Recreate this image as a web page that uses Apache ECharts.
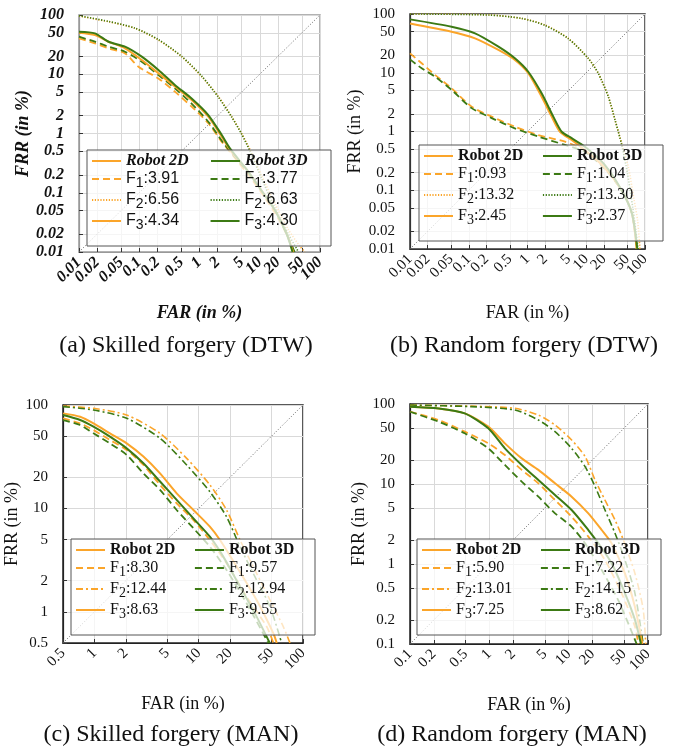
<!DOCTYPE html>
<html>
<head>
<meta charset="utf-8">
<script src="https://cdn.jsdelivr.net/npm/echarts@6/dist/echarts.min.js"></script>
<style>
html, body { margin: 0; padding: 0; background: #fff; }
#main { width: 676px; height: 749px; }
</style>
</head>
<body>
<div id="main"></div>
<script>
var ORANGE = '#FBA52A';
var GREEN = '#3C7A14';

// tick values of the axes
var ticksAB = [0.01, 0.02, 0.05, 0.1, 0.2, 0.5, 1, 2, 5, 10, 20, 50, 100];
var ticksC = [0.5, 1, 2, 5, 10, 20, 50, 100];
var ticksD = [0.1, 0.2, 0.5, 1, 2, 5, 10, 20, 50, 100];
// crowded FAR labels of (a)/(b) go on a second, bare axis so none gets dropped
var farMainAB = [0.01, 0.05, 0.1, 0.2, 0.5, 1, 2, 5, 10, 20, 100];
var farExtraAB = [0.02, 50];

// legend labels, order: F1 2D, F1 3D, F2 2D, F2 3D, F3 2D, F3 3D
var namesA = ['F1:3.91', 'F1:3.77', 'F2:6.56', 'F2:6.63', 'F3:4.34', 'F3:4.30'];
var namesB = ['F1:0.93', 'F1:1.04', 'F2:13.32', 'F2:13.30', 'F3:2.45', 'F3:2.37'];
var namesC = ['F1:8.30', 'F1:9.57', 'F2:12.44', 'F2:12.94', 'F3:8.63', 'F3:9.55'];
var namesD = ['F1:5.90', 'F1:7.22', 'F2:13.01', 'F2:14.15', 'F3:7.25', 'F3:8.62'];

// (a) skilled forgery, DTW  -- [FAR, FRR] in %
var aF1_2d = [[0.01,40.4],[0.0184,33.2],[0.031,27.4],[0.058,22.5],[0.097,13.4],[0.208,8.5],[0.39,5.08],[0.74,2.84],[1.4,1.49],[2.33,0.73],[3.0,0.53],[6,0.22],[10,0.11],[18,0.045],[28,0.02],[37,0.01]];
var aF1_3d = [[0.01,43],[0.0184,35.4],[0.031,29.2],[0.058,24],[0.11,16.3],[0.208,9.7],[0.39,5.8],[0.74,3.2],[1.4,1.58],[2.65,0.64],[6,0.24],[10,0.12],[18,0.05],[28,0.02],[38,0.01]];
var aF2_2d = [[0.01,96],[0.031,77],[0.085,59.6],[0.208,37.8],[0.506,19.8],[1.09,9.1],[2.06,4.2],[3.42,1.92],[5.0,1.0],[6.9,0.53],[10.8,0.19],[17.9,0.066],[29.8,0.024],[45,0.013],[56,0.01]];
var aF2_3d = [[0.01,97],[0.031,78],[0.085,60],[0.208,38.5],[0.506,20],[1.09,9.3],[2.06,4.1],[3.42,1.9],[5.0,0.98],[6.9,0.5],[10.8,0.17],[17.9,0.055],[29.8,0.02],[44,0.01]];
var aF3_2d = [[0.01,50.3],[0.0184,46],[0.031,35.4],[0.058,27.4],[0.11,17.4],[0.208,10.4],[0.39,6.2],[0.74,3.67],[1.4,1.92],[2.33,0.885],[3.2,0.53],[6,0.25],[10,0.12],[18,0.05],[28,0.02],[36,0.01]];
var aF3_3d = [[0.01,52.3],[0.0184,49],[0.031,35.4],[0.058,29.2],[0.11,19.8],[0.208,11.8],[0.39,6.6],[0.74,3.9],[1.4,2.05],[2.33,0.95],[3.2,0.56],[6,0.25],[10,0.12],[18,0.05],[28,0.02],[35,0.01]];

// (b) random forgery, DTW
var bF1_2d = [[0.01,21.4],[0.0158,14.5],[0.0266,9.2],[0.051,5.43],[0.112,2.65],[0.246,1.79],[0.61,1.21],[1.53,0.87],[4.35,0.67],[9.5,0.48],[20,0.25],[40,0.1],[60,0.04],[72,0.01]];
var bF1_3d = [[0.01,16.9],[0.0158,11.9],[0.0266,8.6],[0.051,5.1],[0.112,2.5],[0.246,1.69],[0.61,1.13],[1.53,0.82],[4.35,0.59],[9.5,0.45],[20,0.24],[40,0.1],[60,0.04],[73,0.01]];
var bF2_2d = [[0.01,100],[0.215,97],[0.8,84],[1.99,65],[4.95,38.5],[10.8,17.6],[16,9.8],[23.8,3.9],[30.9,1.57],[40,0.63],[52,0.25],[65,0.07],[75,0.03],[82,0.01]];
var bF2_3d = [[0.01,100],[0.215,96],[0.8,84],[1.99,64],[4.95,38],[10.8,17.6],[16,9.8],[23.8,3.9],[30.9,1.57],[40,0.6],[50,0.2],[62,0.05],[70,0.02],[76,0.01]];
var bF3_2d = [[0.01,69],[0.051,50],[0.128,38.5],[0.32,24.4],[0.61,16.5],[1.03,9.8],[1.74,3.9],[2.58,1.79],[3.57,0.99],[5.64,0.72],[9.5,0.48],[20,0.25],[40,0.1],[60,0.04],[72,0.01]];
var bF3_3d = [[0.01,81],[0.051,60.8],[0.128,46.9],[0.32,27.8],[0.61,17.6],[1.03,10.4],[1.74,4.46],[2.75,1.79],[3.82,0.99],[5.64,0.77],[9.5,0.55],[20,0.28],[40,0.1],[60,0.04],[74,0.01]];

// (c) skilled forgery, MAN
var cF1_2d = [[0.5,74.3],[0.73,66.5],[0.98,57.3],[1.41,45.9],[2.04,36.7],[2.95,26.3],[4.26,16.9],[6.15,11.2],[8.9,7.7],[12.8,4.95],[18.5,2.95],[28.8,1.4],[44.9,0.72],[52,0.5]];
var cF1_3d = [[0.5,71.6],[0.73,64],[0.98,53.2],[1.41,42.6],[2.04,32.9],[2.95,21.8],[4.26,15.1],[6.15,9.66],[8.9,6.43],[12.8,4.27],[18.5,2.54],[28.8,1.21],[46.5,0.5]];
var cF2_2d = [[0.5,97.8],[0.98,92.9],[2.04,80],[4.26,53.2],[7.67,30.5],[12.8,16.9],[18.5,9.66],[24.9,4.95],[35.9,2.36],[48.3,1.3],[64.7,0.72],[75,0.5]];
var cF2_3d = [[0.5,96.4],[0.98,89.5],[2.04,74.3],[4.26,47.6],[7.67,26.3],[12.8,14.5],[18.5,8.3],[24.9,4.27],[35.9,2.03],[48.3,1.12],[62.4,0.5]];
var cF3_2d = [[0.5,83],[0.73,77],[0.98,66.5],[1.41,53.2],[2.04,42.6],[2.95,31.7],[4.26,21.8],[6.15,14],[8.9,9.66],[12.8,6.66],[16,4.95],[23.1,2.74],[35.9,1.3],[52,0.62],[56,0.5]];
var cF3_3d = [[0.5,80],[0.73,71.6],[0.98,61.7],[1.41,49.4],[2.04,38.1],[2.95,27.3],[4.26,18.2],[6.15,12.1],[8.9,8.0],[12.8,5.33],[17.2,3.42],[24.9,1.75],[35.9,0.9],[48,0.5]];

// (d) random forgery, MAN
var dF1_2d = [[0.1,80.2],[0.23,63],[0.49,45.1],[0.97,32.2],[1.57,23],[2.56,15],[4.15,10.2],[6.73,6.3],[10.9,3.9],[17.7,2.2],[28.7,1.12],[46.6,0.43],[68.5,0.165],[75.5,0.1]];
var dF1_3d = [[0.1,80],[0.23,60.1],[0.49,43],[0.97,27.9],[1.57,17.3],[2.56,10.7],[4.15,6.95],[6.73,4.3],[10.9,2.93],[16.1,1.81],[26.1,0.84],[42.3,0.35],[72,0.1]];
var dF2_2d = [[0.1,97],[0.6,94],[2.1,88.3],[4.15,72.9],[6.73,54.6],[10.9,35.5],[16.1,22],[21.5,11.2],[28.7,6.3],[38.4,3.55],[48.9,2.0],[68.5,0.76],[87,0.27],[93.5,0.1]];
var dF2_3d = [[0.1,97],[0.6,92.6],[2.1,84],[4.15,63],[6.73,45.1],[10.9,27.9],[16.1,16.5],[21.5,9.3],[28.7,4.73],[38.4,2.42],[51.3,1.12],[68.5,0.43],[87,0.1]];
var dF3_2d = [[0.1,92.7],[0.23,88],[0.49,76.4],[0.97,52.1],[1.57,32.2],[2.56,20.9],[4.15,15],[6.73,10.2],[10.9,6.95],[17.7,4.3],[26.1,2.66],[34.8,1.81],[51.3,0.76],[68.5,0.29],[85,0.1]];
var dF3_3d = [[0.1,92.7],[0.23,88],[0.49,76.4],[0.97,49.7],[1.57,27.9],[2.56,17.3],[4.15,11.2],[6.73,7.3],[10.9,4.73],[17.7,2.66],[23.7,1.81],[34.8,1.02],[51.3,0.43],[68.5,0.2],[81.6,0.1]];

var captions = ['(a) Skilled forgery (DTW)', '(b) Random forgery (DTW)', '(c) Skilled forgery (MAN)', '(d) Random forgery (MAN)'];

var SERIF = '"Liberation Serif", "DejaVu Serif", serif';
var SANS = '"Liberation Sans", Arial, sans-serif';

var panels = [
	{ grid: {left: 79, top: 15, width: 241, height: 237}, min: 0.01, ticks: ticksAB, names: namesA,
	  farLabels: farMainAB, farExtra: farExtraAB,
	  curves: [aF1_2d, aF1_3d, aF2_2d, aF2_3d, aF3_2d, aF3_3d], f2: 'dot', italic: true, frame: '#999',
	  legend: {left: 87, top: 150}, xGap: 52, yGap: 46, cap: [186, 346] },
	{ grid: {left: 410, top: 14, width: 235, height: 235}, min: 0.01, ticks: ticksAB, names: namesB,
	  farLabels: farMainAB, farExtra: farExtraAB,
	  curves: [bF1_2d, bF1_3d, bF2_2d, bF2_3d, bF3_2d, bF3_3d], f2: 'dot', italic: false, frame: '#333',
	  legend: {left: 419, top: 145}, xGap: 55, yGap: 46, cap: [524, 346] },
	{ grid: {left: 63, top: 405, width: 240, height: 238}, min: 0.5, ticks: ticksC, names: namesC,
	  farLabels: ticksC, farExtra: null,
	  curves: [cF1_2d, cF1_3d, cF2_2d, cF2_3d, cF3_2d, cF3_3d], f2: 'dashdot', italic: false, frame: '#222',
	  legend: {left: 71, top: 539}, xGap: 52, yGap: 34, cap: [171, 735] },
	{ grid: {left: 410, top: 404, width: 238, height: 240}, min: 0.1, ticks: ticksD, names: namesD,
	  farLabels: ticksD, farExtra: null,
	  curves: [dF1_2d, dF1_3d, dF2_2d, dF2_3d, dF3_2d, dF3_3d], f2: 'dashdot', italic: false, frame: '#222',
	  legend: {left: 417, top: 539}, xGap: 52, yGap: 41, cap: [512, 735] }
];

function fmtTick(v) {
	return String(+(+v).toPrecision(3));
}

var grids = [], xAxes = [], extraAxes = [], yAxes = [], series = [], legends = [], graphics = [];

panels.forEach(function (p, i) {
	var tickFont = {
		fontFamily: SERIF, fontSize: p.italic ? 16 : 15, color: '#111',
		fontWeight: p.italic ? 'bold' : 'normal', fontStyle: p.italic ? 'italic' : 'normal'
	};
	var nameFont = {
		fontFamily: SERIF, fontSize: 18, color: '#111',
		fontWeight: p.italic ? 'bold' : 'normal', fontStyle: p.italic ? 'italic' : 'normal'
	};
	grids.push({
		left: p.grid.left, top: p.grid.top, width: p.grid.width, height: p.grid.height,
		show: true, borderColor: p.frame, borderWidth: 1.5, containLabel: false
	});
	var common = {
		type: 'log', logBase: 10, gridIndex: i, min: p.min, max: 100,
		nameLocation: 'middle', nameTextStyle: nameFont,
		axisLine: { show: true, lineStyle: { color: p.frame, width: 1.2 } },
		axisTick: { show: true, inside: true, length: 4, customValues: p.ticks, lineStyle: { color: '#333' } },
		splitLine: { show: true, lineStyle: { color: '#d9d9d9', width: 1 } },
		minorTick: { show: false }
	};
	var farLabelStyle = Object.assign({ rotate: 45, margin: 8, formatter: fmtTick,
		showMinLabel: true, showMaxLabel: true }, tickFont);
	xAxes.push(Object.assign({}, common, {
		name: 'FAR (in %)', nameGap: p.xGap, position: 'bottom',
		axisLabel: Object.assign({ customValues: p.farLabels }, farLabelStyle)
	}));
	if (p.farExtra) {
		extraAxes.push({
			type: 'log', logBase: 10, gridIndex: i, min: p.min, max: 100, position: 'bottom',
			axisLine: { show: false }, axisTick: { show: false }, splitLine: { show: false },
			axisLabel: Object.assign({ customValues: p.farExtra }, farLabelStyle)
		});
	}
	yAxes.push(Object.assign({}, common, {
		name: 'FRR (in %)', nameGap: p.yGap, nameRotate: 90,
		axisLabel: Object.assign({ customValues: p.ticks, margin: 15, formatter: fmtTick,
			showMinLabel: true, showMaxLabel: true }, tickFont)
	}));

	// equal error diagonal
	series.push({
		type: 'line', xAxisIndex: i, yAxisIndex: i, silent: true, symbol: 'none',
		data: [[p.min, p.min], [100, 100]],
		lineStyle: { color: '#666', width: 1, type: [1, 2] }, z: 1
	});

	var f2Type = p.f2 === 'dot' ? [1.2, 1.6] : [7, 3, 2, 3];
	var styles = [
		{ color: ORANGE, type: [7, 4], width: 1.8 },
		{ color: GREEN, type: [7, 4], width: 1.8 },
		{ color: ORANGE, type: f2Type, width: 1.6 },
		{ color: GREEN, type: f2Type, width: 1.6 },
		{ color: ORANGE, type: 'solid', width: 2 },
		{ color: GREEN, type: 'solid', width: 2 }
	];
	p.curves.forEach(function (c, k) {
		series.push({
			name: p.names[k], type: 'line', xAxisIndex: i, yAxisIndex: i,
			symbol: 'none', smooth: 0.25, clip: true, data: c,
			lineStyle: styles[k], itemStyle: { color: styles[k].color }
		});
	});

	// text column widths keep the two legend columns aligned
	var fFamily = p.italic ? SANS : SERIF;
	var restW = p.italic ? 64 : 66;
	legends.push({
		orient: 'horizontal', left: p.legend.left, top: p.legend.top, width: 246,
		itemWidth: 29, itemHeight: 14, itemGap: 2, selectedMode: false,
		padding: [3, 4, 14, 4],
		itemStyle: { opacity: 0 },
		backgroundColor: 'rgba(255,255,255,0.72)', borderColor: '#555', borderWidth: 1,
		data: ['Robot 2D', 'Robot 3D', p.names[0], p.names[1], p.names[2], p.names[3], p.names[4], p.names[5]],
		formatter: function (name) {
			if (name.indexOf('Robot') === 0) return '{h|' + name + '}';
			var m = name.match(/^F(\d):(.*)$/);
			return '{f|F}{s|' + m[1] + '}{g|:' + m[2] + '}';
		},
		textStyle: {
			rich: {
				h: { fontFamily: SERIF, fontWeight: 'bold', fontStyle: p.italic ? 'italic' : 'normal',
					fontSize: 16, color: '#111', lineHeight: 22, width: 82 },
				f: { fontFamily: fFamily, fontSize: 16, color: '#111', lineHeight: 22 },
				s: { fontFamily: fFamily, fontSize: 14, color: '#111', lineHeight: 12, verticalAlign: 'bottom' },
				g: { fontFamily: fFamily, fontSize: 16, color: '#111', lineHeight: 22, width: restW }
			}
		}
	});

	graphics.push({
		type: 'text', x: p.cap[0], y: p.cap[1], silent: true,
		style: { text: captions[i], textAlign: 'center', textVerticalAlign: 'middle',
			font: '24px ' + SERIF, fill: '#111' }
	});
});

// legend header entries
series.push({ name: 'Robot 2D', type: 'line', xAxisIndex: 0, yAxisIndex: 0, symbol: 'none', data: [],
	lineStyle: { color: ORANGE, width: 2 }, itemStyle: { color: ORANGE } });
series.push({ name: 'Robot 3D', type: 'line', xAxisIndex: 0, yAxisIndex: 0, symbol: 'none', data: [],
	lineStyle: { color: GREEN, width: 2 }, itemStyle: { color: GREEN } });

var chart = echarts.init(document.getElementById('main'));
chart.setOption({
	animation: false,
	backgroundColor: '#fff',
	grid: grids,
	xAxis: xAxes.concat(extraAxes),
	yAxis: yAxes,
	legend: legends,
	series: series,
	graphic: graphics
});
</script>
</body>
</html>
